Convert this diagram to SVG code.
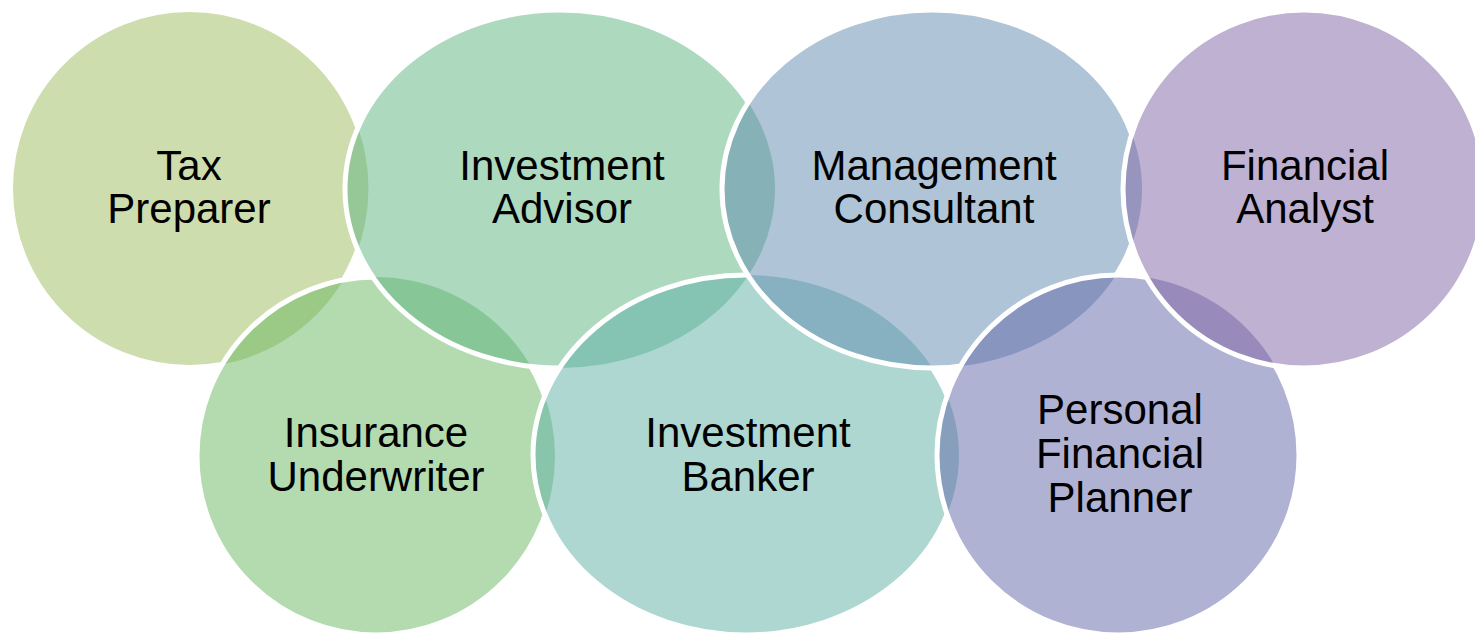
<svg xmlns="http://www.w3.org/2000/svg" width="1475" height="633" viewBox="0 0 1475 633">
<style>
.c{fill-opacity:0.5}
.s{fill:none;stroke:#ffffff;stroke-width:5}
.t{font-family:"Liberation Sans",Arial,sans-serif;font-size:42px;fill:#000000;text-anchor:middle}
</style>
<defs>
<ellipse id="eTax" cx="189.5" cy="188.5" rx="179" ry="179"/>
<ellipse id="eAdv" cx="560" cy="189" rx="215" ry="179"/>
<ellipse id="eCon" cx="932" cy="189" rx="210" ry="179"/>
<ellipse id="eAna" cx="1304" cy="189" rx="181" ry="179"/>
<ellipse id="eUnd" cx="376" cy="456" rx="179" ry="179"/>
<ellipse id="eBan" cx="746" cy="455" rx="213" ry="180"/>
<ellipse id="ePla" cx="1118" cy="455" rx="181" ry="180"/>
<mask id="mTax" maskUnits="userSpaceOnUse" x="0" y="0" width="1475" height="633"><rect width="1475" height="633" fill="#fff"/><use href="#eUnd" fill="#000"/><use href="#eAdv" fill="#000"/></mask>
<mask id="mUnd" maskUnits="userSpaceOnUse" x="0" y="0" width="1475" height="633"><rect width="1475" height="633" fill="#fff"/><use href="#eAdv" fill="#000"/><use href="#eBan" fill="#000"/></mask>
<mask id="mAdv" maskUnits="userSpaceOnUse" x="0" y="0" width="1475" height="633"><rect width="1475" height="633" fill="#fff"/><use href="#eBan" fill="#000"/><use href="#eCon" fill="#000"/></mask>
<mask id="mBan" maskUnits="userSpaceOnUse" x="0" y="0" width="1475" height="633"><rect width="1475" height="633" fill="#fff"/><use href="#eCon" fill="#000"/><use href="#ePla" fill="#000"/></mask>
<mask id="mCon" maskUnits="userSpaceOnUse" x="0" y="0" width="1475" height="633"><rect width="1475" height="633" fill="#fff"/><use href="#ePla" fill="#000"/><use href="#eAna" fill="#000"/></mask>
<mask id="mPla" maskUnits="userSpaceOnUse" x="0" y="0" width="1475" height="633"><rect width="1475" height="633" fill="#fff"/><use href="#eAna" fill="#000"/></mask>
</defs>
<rect width="1475" height="633" fill="#ffffff"/>
<g id="fills">
<use href="#eTax" class="c" fill="#9DBB5B"/>
<use href="#eUnd" class="c" fill="#67B75F"/>
<use href="#eAdv" class="c" fill="#5BB37F"/>
<use href="#eBan" class="c" fill="#5DAFA5"/>
<use href="#eCon" class="c" fill="#5F89AD"/>
<use href="#ePla" class="c" fill="#6165A7"/>
<use href="#eAna" class="c" fill="#7F63A3"/>
</g>
<g id="outlines">
<use href="#eTax" class="s" mask="url(#mTax)"/>
<use href="#eUnd" class="s" mask="url(#mUnd)"/>
<use href="#eAdv" class="s" mask="url(#mAdv)"/>
<use href="#eBan" class="s" mask="url(#mBan)"/>
<use href="#eCon" class="s" mask="url(#mCon)"/>
<use href="#ePla" class="s" mask="url(#mPla)"/>
<use href="#eAna" class="s"/>
</g>
<g id="tax-preparer"><text class="t" x="189" y="180">Tax</text><text class="t" x="189" y="223">Preparer</text></g>
<g id="investment-advisor"><text class="t" x="562" y="180">Investment</text><text class="t" x="562" y="223">Advisor</text></g>
<g id="management-consultant"><text class="t" x="934" y="180">Management</text><text class="t" x="934" y="223">Consultant</text></g>
<g id="financial-analyst"><text class="t" x="1305" y="180">Financial</text><text class="t" x="1305" y="223">Analyst</text></g>
<g id="insurance-underwriter"><text class="t" x="376" y="447">Insurance</text><text class="t" x="376" y="491">Underwriter</text></g>
<g id="investment-banker"><text class="t" x="748" y="447">Investment</text><text class="t" x="748" y="491">Banker</text></g>
<g id="personal-financial-planner"><text class="t" x="1120" y="424">Personal</text><text class="t" x="1120" y="468">Financial</text><text class="t" x="1120" y="512">Planner</text></g>
</svg>
